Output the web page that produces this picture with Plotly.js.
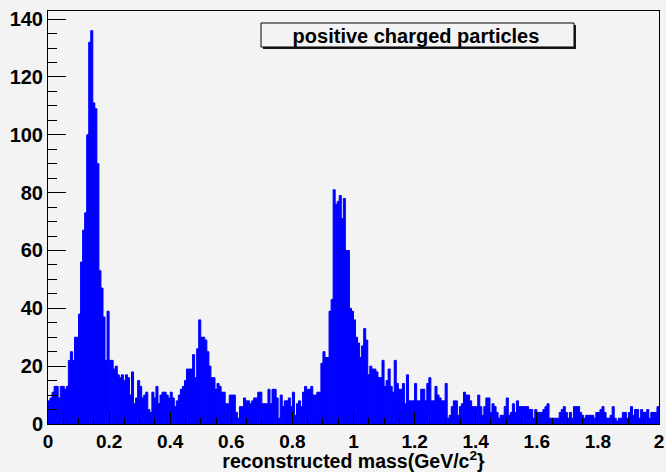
<!DOCTYPE html>
<html>
<head>
<meta charset="utf-8">
<script src="https://cdn.plot.ly/plotly-3.0.1.min.js"></script>
<style>
  html, body { margin: 0; padding: 0; background: #f3f3f3; }
  #chart { width: 666px; height: 472px; }
</style>
</head>
<body>
<div id="chart"></div>
<script>
// Histogram binning (300 bins from 0 to 2 GeV/c^2)
const binLow = 0;
const binHigh = 2;
// Bin contents
const counts = [
  8, 9, 11, 13, 13, 9, 13, 13, 12, 13,
  22, 25, 22, 30, 30, 38, 56, 67, 73, 100,
  132, 136, 111, 109, 90, 53, 47, 37, 22, 39,
  22, 22, 19, 20, 17, 16, 17, 15, 17, 16,
  10, 18, 7, 9, 15, 13, 9, 10, 11, 5,
  4, 11, 9, 13, 7, 10, 11, 11, 10, 9,
  11, 9, 6, 8, 10, 12, 13, 15, 19, 19,
  19, 24, 16, 26, 36, 30, 30, 29, 25, 20,
  16, 16, 12, 14, 13, 11, 11, 7, 7, 10,
  10, 10, 4, 2, 6, 6, 9, 8, 8, 7,
  8, 9, 9, 11, 11, 7, 7, 7, 12, 7,
  12, 12, 9, 2, 10, 6, 8, 8, 9, 6,
  11, 3, 7, 8, 6, 11, 13, 12, 12, 13,
  10, 10, 11, 11, 21, 25, 23, 23, 39, 43,
  81, 76, 77, 79, 71, 78, 60, 60, 40, 39,
  36, 30, 28, 23, 27, 33, 29, 17, 20, 19,
  19, 18, 16, 16, 22, 13, 15, 19, 13, 11,
  22, 14, 12, 12, 14, 7, 17, 8, 8, 8,
  14, 8, 8, 12, 12, 8, 14, 16, 8, 8,
  13, 10, 9, 8, 8, 14, 2, 3, 6, 8,
  8, 3, 6, 7, 11, 10, 10, 8, 6, 6,
  6, 10, 6, 3, 6, 9, 9, 4, 7, 6,
  4, 2, 3, 3, 6, 9, 3, 4, 7, 4,
  8, 6, 6, 6, 6, 6, 5, 5, 2, 5,
  4, 4, 4, 5, 6, 7, 2, 2, 2, 2,
  2, 4, 5, 6, 4, 2, 4, 2, 6, 6,
  6, 4, 3, 2, 3, 3, 3, 3, 2, 4,
  4, 5, 6, 4, 2, 2, 3, 6, 2, 1,
  2, 2, 4, 4, 2, 4, 6, 3, 5, 5,
  2, 5, 4, 4, 5, 2, 4, 4, 4, 6
];
const chartTitle = 'positive charged particles';
const xTitle = 'reconstructed mass(GeV/c<sup>2</sup>}';

const nBins = counts.length;
const binWidth = (binHigh - binLow) / nBins;
const centers = counts.map((_, i) => binLow + (i + 0.5) * binWidth);
const yMax = Math.max(...counts) * 1.05;

const bg = '#f3f3f3';
const fontFam = '"Liberation Sans", Arial, Helvetica, sans-serif';

const trace = {
  type: 'bar',
  x: centers,
  y: counts,
  width: binWidth,
  marker: { color: '#0000ff', line: { color: '#0000ff', width: 1 } },
  hoverinfo: 'x+y'
};

const layout = {
  width: 666,
  height: 472,
  paper_bgcolor: bg,
  plot_bgcolor: bg,
  margin: { l: 48, r: 7, t: 11, b: 48, pad: 0 },
  showlegend: false,
  bargap: 0,
  title: {
    text: chartTitle,
    x: 416 / 666, xanchor: 'center', xref: 'container',
    y: 1 - 35.5 / 472, yanchor: 'middle', yref: 'container',
    font: { family: fontFam, size: 20, color: '#000', weight: 'bold' }
  },
  xaxis: {
    range: [binLow, binHigh],
    tick0: 0, dtick: 0.2,
    ticks: 'inside', ticklen: 12, tickwidth: 1, tickcolor: '#000',
    minor: { dtick: 0.05, tick0: 0, ticks: 'inside', ticklen: 6, tickwidth: 1, tickcolor: '#000', showgrid: false },
    showline: true, mirror: true, linecolor: '#000', linewidth: 1,
    showgrid: false, zeroline: false,
    tickfont: { family: fontFam, size: 19, color: '#000', weight: 'bold' },
    title: { text: xTitle, standoff: 3, font: { family: fontFam, size: 19.5, color: '#000', weight: 'bold' } }
  },
  yaxis: {
    range: [0, yMax],
    tick0: 0, dtick: 20,
    ticks: 'inside', ticklen: 18, tickwidth: 1, tickcolor: '#000',
    minor: { dtick: 5, tick0: 0, ticks: 'inside', ticklen: 9, tickwidth: 1, tickcolor: '#000', showgrid: false },
    showline: true, mirror: true, linecolor: '#000', linewidth: 1,
    showgrid: false, zeroline: false,
    tickfont: { family: fontFam, size: 20, color: '#000', weight: 'bold' }
  },
  shapes: [
    { type: 'rect', xref: 'paper', yref: 'paper',
      x0: (263 - 48) / 611, x1: (576 - 48) / 611,
      y0: (424 - 49) / 413, y1: (424 - 25) / 413,
      fillcolor: '#1a1a1a', line: { width: 0 }, layer: 'above' },
    { type: 'rect', xref: 'paper', yref: 'paper',
      x0: (261 - 48) / 611, x1: (574 - 48) / 611,
      y0: (424 - 47) / 413, y1: (424 - 23) / 413,
      fillcolor: bg, line: { color: '#000', width: 1 }, layer: 'above' }
  ]
};

Plotly.newPlot('chart', [trace], layout, { displayModeBar: false, staticPlot: true });
</script>
</body>
</html>
